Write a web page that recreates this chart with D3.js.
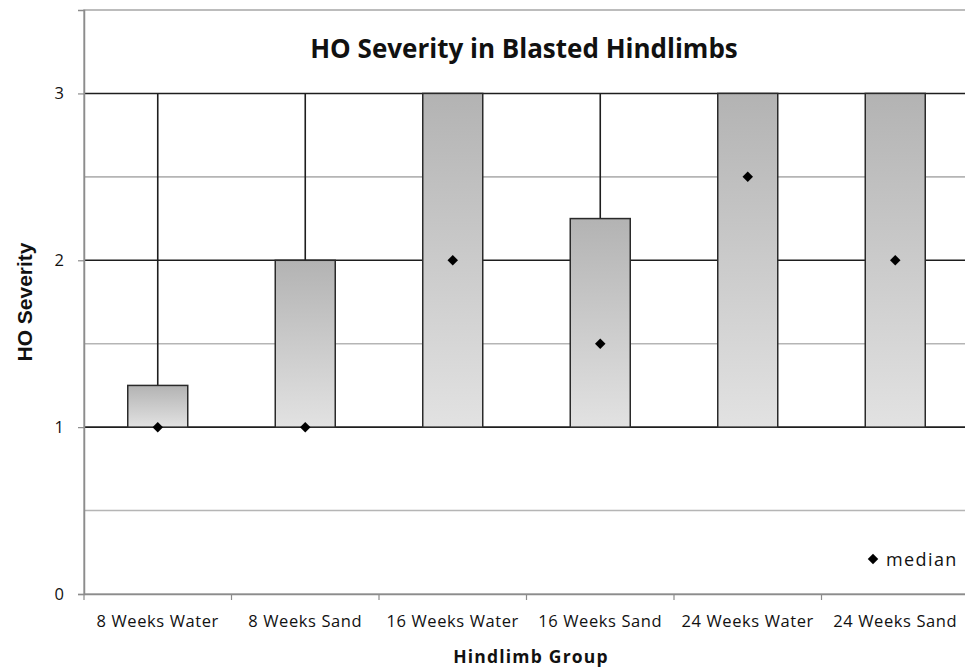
<!DOCTYPE html>
<html>
<head>
<meta charset="utf-8">
<script src="https://cdn.jsdelivr.net/npm/d3@7"></script>
<style>
  body { margin: 0; background: #fff; }
  text { font-family: "Open Sans", "DejaVu Sans", sans-serif; }
</style>
</head>
<body>
<svg id="chart"></svg>
<script>
const width = 965;
const height = 669;

// data
const groups = ['8 Weeks Water', '8 Weeks Sand', '16 Weeks Water', '16 Weeks Sand', '24 Weeks Water', '24 Weeks Sand'];
const boxLow = [1, 1, 1, 1, 1, 1];
const boxHigh = [1.25, 2, 3, 2.25, 3, 3];
const whiskerHigh = [3, 3, 3, 3, 3, 3];
const medians = [1, 1, 2, 1.5, 2.5, 2];
const yTicks = [0, 1, 2, 3];
const yGrid = [0.5, 1, 1.5, 2, 2.5, 3];

const plot = {left: 84, right: 969, top: 10, bottom: 594};

const svg = d3.select('#chart')
    .attr('width', width)
    .attr('height', height);

const x = d3.scaleBand().domain(groups).range([plot.left, plot.right]);
const y = d3.scaleLinear().domain([0, 3.5]).range([plot.bottom, plot.top]);

const defs = svg.append('defs');
const grad = defs.append('linearGradient')
    .attr('id', 'boxFill')
    .attr('x1', 0).attr('y1', 0).attr('x2', 0).attr('y2', 1);
grad.append('stop').attr('offset', '0%').attr('stop-color', '#b3b3b3');
grad.append('stop').attr('offset', '100%').attr('stop-color', '#e2e2e2');

// plot area frame
svg.append('rect')
    .attr('x', plot.left)
    .attr('y', plot.top)
    .attr('width', plot.right - plot.left)
    .attr('height', plot.bottom - plot.top)
    .attr('fill', 'none')
    .attr('stroke', '#a6a6a6')
    .attr('stroke-width', 1.5);

// gridlines: half steps grey, whole steps dark
svg.append('g').selectAll('line')
    .data(yGrid)
    .enter()
    .append('line')
    .attr('x1', plot.left)
    .attr('x2', plot.right)
    .attr('y1', d => y(d))
    .attr('y2', d => y(d))
    .attr('stroke', d => Number.isInteger(d) ? '#1e1e1e' : '#b5b5b5')
    .attr('stroke-width', 1.6);

// title
svg.append('text')
    .attr('x', 524)
    .attr('y', 58)
    .attr('text-anchor', 'middle')
    .attr('font-size', 26)
    .attr('font-weight', 'bold')
    .attr('fill', '#111')
    .text('HO Severity in Blasted Hindlimbs');

const boxWidth = 60;

// whiskers
svg.append('g').selectAll('line')
    .data(groups)
    .enter()
    .append('line')
    .attr('x1', d => x(d) + x.bandwidth() / 2)
    .attr('x2', d => x(d) + x.bandwidth() / 2)
    .attr('y1', (d, i) => y(boxHigh[i]))
    .attr('y2', (d, i) => y(whiskerHigh[i]))
    .attr('stroke', '#1e1e1e')
    .attr('stroke-width', 1.6);

// boxes
svg.append('g').selectAll('rect')
    .data(groups)
    .enter()
    .append('rect')
    .attr('x', d => x(d) + x.bandwidth() / 2 - boxWidth / 2)
    .attr('y', (d, i) => y(boxHigh[i]))
    .attr('width', boxWidth)
    .attr('height', (d, i) => y(boxLow[i]) - y(boxHigh[i]))
    .attr('fill', 'url(#boxFill)')
    .attr('stroke', '#2a2a2a')
    .attr('stroke-width', 1.5);

// medians
const diamond = d3.symbol().type(d3.symbolDiamond2).size(70);
svg.append('g').selectAll('path')
    .data(groups)
    .enter()
    .append('path')
    .attr('d', diamond)
    .attr('transform', (d, i) => `translate(${x(d) + x.bandwidth() / 2},${y(medians[i])})`)
    .attr('fill', '#000');

// axes
const yAxis = svg.append('g')
    .attr('transform', `translate(${plot.left},0)`)
    .call(d3.axisLeft(y).tickValues(yTicks).tickFormat(d3.format('d')).tickSize(6).tickPadding(14));
yAxis.select('.domain').attr('stroke', '#8c8c8c').attr('stroke-width', 1.5);
yAxis.selectAll('.tick line').attr('stroke', '#8c8c8c').attr('stroke-width', 1.2);
yAxis.selectAll('.tick text')
    .attr('font-size', 16.5)
    .attr('fill', '#111')
    .style('font-family', '"Open Sans", sans-serif');

const xAxis = svg.append('g')
    .attr('transform', `translate(0,${plot.bottom})`)
    .call(d3.axisBottom(x).tickSize(0).tickPadding(16));
xAxis.select('.domain').attr('stroke', '#8c8c8c').attr('stroke-width', 1.5);
xAxis.selectAll('.tick text')
    .attr('y', 33)
    .attr('dy', 0)
    .attr('font-size', 16.5)
    .attr('letter-spacing', 0.6)
    .attr('fill', '#111')
    .style('font-family', '"Open Sans", sans-serif');

// category separators on x axis
svg.append('g').selectAll('line')
    .data(groups)
    .enter()
    .append('line')
    .attr('x1', d => x(d))
    .attr('x2', d => x(d))
    .attr('y1', plot.bottom)
    .attr('y2', plot.bottom + 6)
    .attr('stroke', '#8c8c8c')
    .attr('stroke-width', 1.2);

// axis titles
svg.append('text')
    .attr('transform', 'translate(32,302) rotate(-90)')
    .attr('text-anchor', 'middle')
    .attr('font-size', 21)
    .attr('font-weight', 'bold')
    .attr('fill', '#111')
    .style('font-family', '"Liberation Sans", Arial, sans-serif')
    .text('HO Severity');

svg.append('text')
    .attr('x', 531)
    .attr('y', 663)
    .attr('text-anchor', 'middle')
    .attr('font-size', 17.5)
    .attr('font-weight', 'bold')
    .attr('letter-spacing', 1.2)
    .attr('fill', '#111')
    .text('Hindlimb Group');

// legend
const legend = svg.append('g').attr('transform', 'translate(873,559)');
legend.append('path')
    .attr('d', diamond)
    .attr('fill', '#000');
legend.append('text')
    .attr('x', 13)
    .attr('y', 7)
    .attr('font-size', 18)
    .attr('letter-spacing', 1.4)
    .attr('fill', '#111')
    .text('median');
</script>
</body>
</html>
